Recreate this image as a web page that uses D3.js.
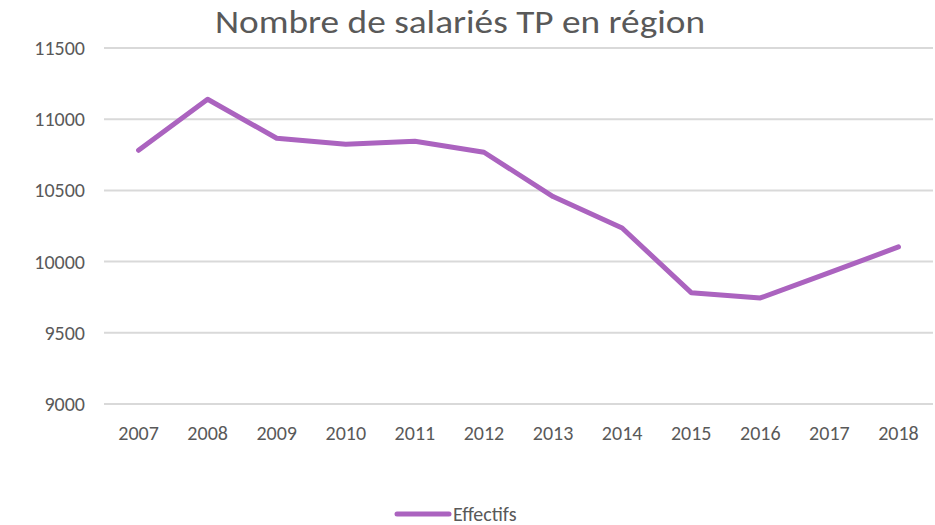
<!DOCTYPE html>
<html>
<head>
<meta charset="utf-8">
<script src="https://cdn.jsdelivr.net/npm/d3@7"></script>
<style>
  body { margin: 0; background: #fff; }
  text { font-family: Carlito, Lato, "Open Sans", sans-serif; fill: #595959; }
</style>
</head>
<body>
<div id="chart"></div>
<script>

// chart data
const years = ["2007", "2008", "2009", "2010", "2011", "2012", "2013", "2014", "2015", "2016", "2017", "2018"];
const effectifs = [10782, 11140, 10866, 10824, 10845, 10768, 10457, 10236, 9782, 9745, 9922, 10103];
const yTicks = [9000, 9500, 10000, 10500, 11000, 11500];
const seriesName = "Effectifs";
const chartTitle = "Nombre de salariés TP en région";

let margin = {top: 48, right: 2, bottom: 121, left: 104};
let width = 935 - margin.left - margin.right;
let height = 525 - margin.top - margin.bottom;

let svg = d3.select("#chart").append("svg")
    .attr("width", 935)
    .attr("height", 525);

let g = svg.append("g")
    .attr("transform", "translate(" + margin.left + "," + margin.top + ")");

// scales
let x = d3.scaleBand()
    .domain(years)
    .range([0, width]);

let y = d3.scaleLinear()
    .domain([9000, 11500])
    .range([height, 0]);

// gridlines
g.selectAll(".grid")
    .data(yTicks)
    .enter().append("line")
    .attr("class", "grid")
    .attr("x1", 0)
    .attr("x2", width)
    .attr("y1", d => y(d))
    .attr("y2", d => y(d))
    .attr("stroke", "#d9d9d9")
    .attr("stroke-width", 2);

// y axis labels
let yAxis = d3.axisLeft(y).tickValues(yTicks).tickFormat(d3.format("d")).tickSize(0).tickPadding(19);
g.append("g")
    .call(yAxis)
    .call(a => a.select(".domain").remove())
    .selectAll("text")
    .style("font-size", "20px")
    .attr("fill", "#595959");

// x axis labels
let xAxis = d3.axisBottom(x).tickSize(0).tickPadding(22);
g.append("g")
    .attr("transform", "translate(0," + height + ")")
    .call(xAxis)
    .call(a => a.select(".domain").remove())
    .selectAll("text")
    .style("font-size", "20px")
    .attr("fill", "#595959");

// line
let line = d3.line()
    .x((d, i) => x(years[i]) + x.bandwidth() / 2)
    .y(d => y(d));

g.append("path")
    .datum(effectifs)
    .attr("d", line)
    .attr("fill", "none")
    .attr("stroke", "#ab63bf")
    .attr("stroke-width", 5)
    .attr("stroke-linecap", "round")
    .attr("stroke-linejoin", "round");

// title
svg.append("text")
    .attr("x", 215)
    .attr("y", 33)
    .attr("textLength", 490)
    .attr("lengthAdjust", "spacingAndGlyphs")
    .style("font-size", "33px")
    .text(chartTitle);

// legend
let legend = svg.append("g").attr("transform", "translate(397,514)");
legend.append("line")
    .attr("x1", 0)
    .attr("x2", 52)
    .attr("stroke", "#ab63bf")
    .attr("stroke-width", 5)
    .attr("stroke-linecap", "round");
legend.append("text")
    .attr("x", 56)
    .attr("y", 7)
    .style("font-size", "20px")
    .text(seriesName);

</script>
</body>
</html>
